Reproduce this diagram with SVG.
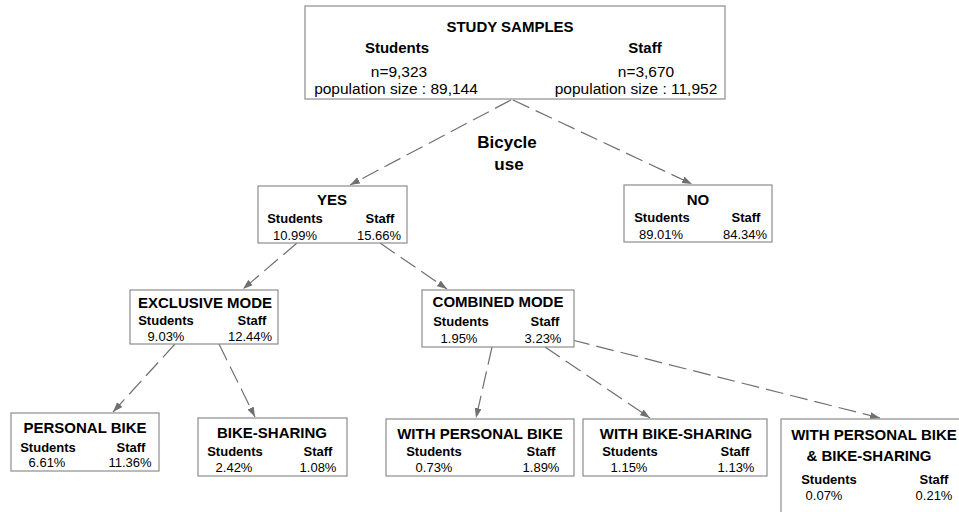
<svg xmlns="http://www.w3.org/2000/svg" width="959" height="512" viewBox="0 0 959 512">
<style>
.box{fill:#fff;stroke:#8c8c8c;stroke-width:1.2}
text{font-family:"Liberation Sans",Arial,sans-serif;fill:#000;text-anchor:middle}
.t{font-size:15px;font-weight:bold}
.h{font-size:13px;font-weight:bold}
.v{font-size:13px}
.tt{font-size:15px;font-weight:bold}
.tv{font-size:15.5px}
.lbl{font-size:17px;font-weight:bold}
.c{fill:none;stroke:#707070;stroke-width:1.2;stroke-dasharray:18 7}
</style>
<defs>
<marker id="ah" markerWidth="11" markerHeight="8" refX="10" refY="3.5" orient="auto" markerUnits="userSpaceOnUse">
<path d="M0,0 L10,3.5 L0,7 z" fill="#707070"/>
</marker>
</defs>
<g id="connectors">
<line class="c" x1="511" y1="100" x2="350" y2="185" marker-end="url(#ah)"/>
<line class="c" x1="513" y1="100" x2="692" y2="184" marker-end="url(#ah)"/>
<line class="c" x1="297" y1="243" x2="243" y2="289" marker-end="url(#ah)"/>
<line class="c" x1="380" y1="243" x2="447" y2="289" marker-end="url(#ah)"/>
<line class="c" x1="175" y1="344" x2="113" y2="412" marker-end="url(#ah)"/>
<line class="c" x1="219" y1="344" x2="255" y2="417" marker-end="url(#ah)"/>
<line class="c" x1="492" y1="347" x2="476" y2="418" marker-end="url(#ah)"/>
<line class="c" x1="545" y1="347" x2="650" y2="418" marker-end="url(#ah)"/>
<line class="c" x1="572" y1="340" x2="880" y2="418" marker-end="url(#ah)"/>
</g>
<g id="label-bicycle">
<text class="lbl" x="507" y="148">Bicycle</text>
<text class="lbl" x="509" y="170">use</text>
</g>
<g id="study-samples">
<rect class="box" x="305" y="6" width="420" height="93"/>
<text class="tt" x="510" y="32">STUDY SAMPLES</text>
<text class="tt" x="397" y="53">Students</text>
<text class="tt" x="645" y="53">Staff</text>
<text class="tv" x="399" y="77">n=9,323</text>
<text class="tv" x="396" y="94">population size : 89,144</text>
<text class="tv" x="646" y="77">n=3,670</text>
<text class="tv" x="636" y="94">population size : 11,952</text>
</g>
<g id="yes">
<rect class="box" x="258" y="186" width="149" height="57"/>
<text class="t" x="332" y="205">YES</text>
<text class="h" x="295" y="223">Students</text>
<text class="h" x="380" y="223">Staff</text>
<text class="v" x="295" y="240">10.99%</text>
<text class="v" x="379" y="240">15.66%</text>
</g>
<g id="no">
<rect class="box" x="624" y="185" width="148" height="57"/>
<text class="t" x="698" y="205">NO</text>
<text class="h" x="662" y="222">Students</text>
<text class="h" x="746" y="222">Staff</text>
<text class="v" x="661" y="239">89.01%</text>
<text class="v" x="745" y="239">84.34%</text>
</g>
<g id="exclusive-mode">
<rect class="box" x="130" y="290" width="148" height="54"/>
<text class="t" x="205" y="308">EXCLUSIVE MODE</text>
<text class="h" x="166" y="325">Students</text>
<text class="h" x="252" y="325">Staff</text>
<text class="v" x="166" y="341">9.03%</text>
<text class="v" x="250" y="341">12.44%</text>
</g>
<g id="combined-mode">
<rect class="box" x="422" y="290" width="152" height="57"/>
<text class="t" x="498" y="307">COMBINED MODE</text>
<text class="h" x="461" y="326">Students</text>
<text class="h" x="545" y="326">Staff</text>
<text class="v" x="459" y="343">1.95%</text>
<text class="v" x="543" y="343">3.23%</text>
</g>
<g id="personal-bike">
<rect class="box" x="11" y="413" width="148" height="58"/>
<text class="t" x="85" y="433">PERSONAL BIKE</text>
<text class="h" x="48" y="452">Students</text>
<text class="h" x="131" y="452">Staff</text>
<text class="v" x="47" y="467">6.61%</text>
<text class="v" x="130" y="467">11.36%</text>
</g>
<g id="bike-sharing">
<rect class="box" x="198" y="418" width="149" height="58"/>
<text class="t" x="272" y="438">BIKE-SHARING</text>
<text class="h" x="235" y="456">Students</text>
<text class="h" x="318" y="456">Staff</text>
<text class="v" x="234" y="472">2.42%</text>
<text class="v" x="318" y="472">1.08%</text>
</g>
<g id="with-personal-bike">
<rect class="box" x="386" y="419" width="188" height="57"/>
<text class="t" x="480" y="439">WITH PERSONAL BIKE</text>
<text class="h" x="434" y="456">Students</text>
<text class="h" x="541" y="456">Staff</text>
<text class="v" x="434" y="472">0.73%</text>
<text class="v" x="541" y="472">1.89%</text>
</g>
<g id="with-bike-sharing">
<rect class="box" x="583" y="419" width="184" height="57"/>
<text class="t" x="676" y="439">WITH BIKE-SHARING</text>
<text class="h" x="630" y="456">Students</text>
<text class="h" x="735" y="456">Staff</text>
<text class="v" x="629" y="472">1.15%</text>
<text class="v" x="736" y="472">1.13%</text>
</g>
<g id="with-personal-bike-and-bike-sharing">
<rect class="box" x="781" y="419" width="200" height="120"/>
<text class="t" x="874" y="440">WITH PERSONAL BIKE</text>
<text class="t" x="869" y="461">&amp; BIKE-SHARING</text>
<text class="h" x="829" y="484">Students</text>
<text class="h" x="934" y="484">Staff</text>
<text class="v" x="824" y="500">0.07%</text>
<text class="v" x="934" y="500">0.21%</text>
</g>
</svg>
